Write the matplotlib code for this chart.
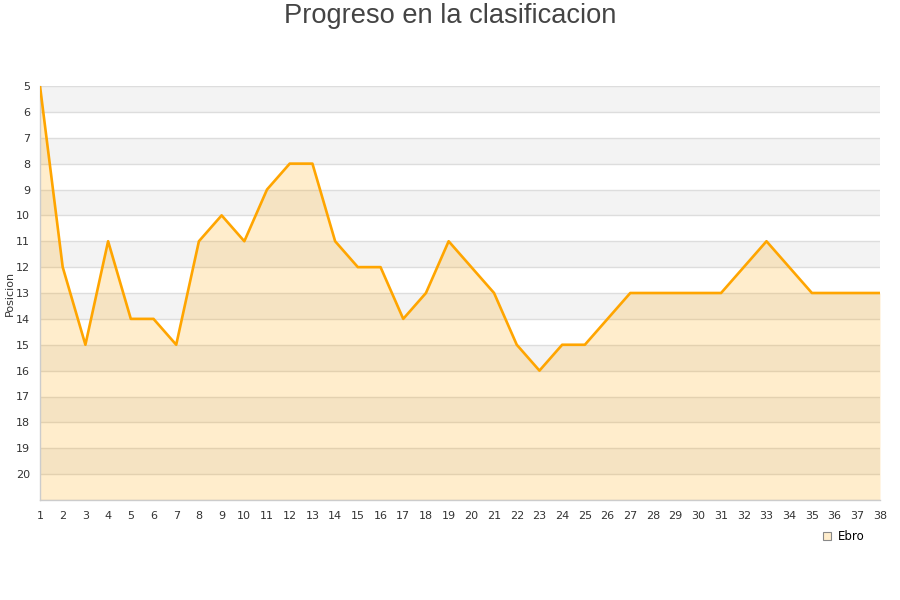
import matplotlib
matplotlib.use("Agg")
import matplotlib.pyplot as plt
from matplotlib.lines import Line2D

jornadas = list(range(1, 39))
posicion = [5, 12, 15, 11, 14, 14, 15, 11, 10, 11, 9, 8, 8, 11, 12, 12, 14, 13, 11, 12,
            13, 15, 16, 15, 15, 14, 13, 13, 13, 13, 13, 12, 11, 12, 13, 13, 13, 13]
y_ticks = list(range(5, 21))
team = "Ebro"
title = "Progreso en la clasificacion"
ylabel = "Posicion"

fig = plt.figure(figsize=(9, 6), dpi=100)
ax = fig.add_axes([40/900, 1-500/600, 840/900, 414/600])

ymin, ymax = 5, 21
for k in range(ymin, ymax, 2):
    ax.axhspan(k, k+1, color="#f3f3f3", zorder=0, lw=0)
for k in range(ymin, ymax+1):
    ax.axhline(k, color="#dddddd", lw=1, zorder=1)

ax.fill_between(jornadas, posicion, ymax, color="#FFA500", alpha=0.2, lw=0, zorder=2)
ax.plot(jornadas, posicion, color="#FFA500", lw=1.9, zorder=3)

ax.set_xlim(1, 38)
ax.set_ylim(ymax, ymin)
ax.set_xticks(jornadas)
ax.set_yticks(y_ticks)
ax.tick_params(length=0, labelsize=8, colors="#333333", pad=7)
ax.tick_params(axis="x", pad=8)
for s in ["top", "right"]:
    ax.spines[s].set_visible(False)
for s in ["left", "bottom"]:
    ax.spines[s].set_color("#cccccc")
ax.spines["left"].set_linewidth(1)
ax.spines["bottom"].set_linewidth(1)

ax.set_ylabel(ylabel, fontsize=8, color="#333333")
ax.yaxis.set_label_coords(-25/840, 0.5)
fig.text(0.5, 1-16/600, title, ha="center", va="center", fontsize=19.6,
         color="#444444", family="Liberation Sans")

h = Line2D([], [], marker="s", ls="none", markersize=6, markerfacecolor="#FFEDCC",
           markeredgecolor="#888888", markeredgewidth=0.8)
fig.legend([h], [team], loc="center", bbox_to_anchor=(843/900, 1-537/600), frameon=False,
           fontsize=8.5, handletextpad=0.4, handlelength=1)

fig.savefig("out.png", dpi=100)
